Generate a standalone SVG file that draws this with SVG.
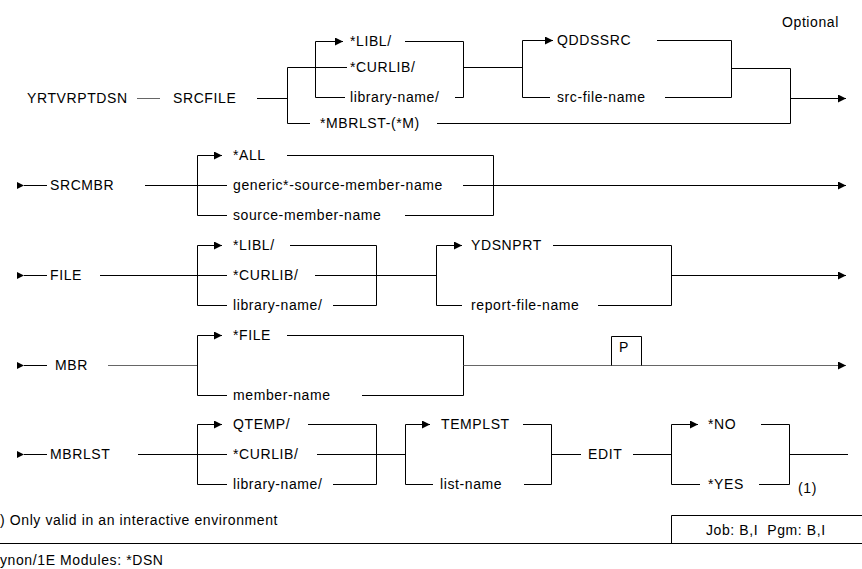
<svg xmlns="http://www.w3.org/2000/svg" width="862" height="569" viewBox="0 0 862 569">
<defs>
<marker id="ah" markerUnits="userSpaceOnUse" markerWidth="9" markerHeight="9" refX="8" refY="4" orient="auto"><path d="M0,0 L8,4 L0,8 z" fill="#000"/></marker>
<marker id="as" markerUnits="userSpaceOnUse" markerWidth="8" markerHeight="8" refX="7" refY="3.5" orient="auto"><path d="M0,0 L7,3.5 L0,7 z" fill="#000"/></marker>
<style>
text{font-family:"Liberation Sans",Arial,sans-serif;font-size:14px;letter-spacing:0.6px;fill:#000}
.c path{fill:none;stroke:#000;stroke-width:1}
.g{stroke:#666 !important}
.a{marker-end:url(#ah)}
.s{marker-start:url(#as)}
</style>
</defs>
<rect width="862" height="569" fill="#fff"/>
<g class="c" id="connectors">
<!-- row 1 -->
<path class="g" d="M137,98.5 H160"/>
<path d="M257,98.5 H287.5"/>
<path d="M287.5,67.5 V123.5"/>
<path d="M287.5,67.5 H347"/>
<path class="a" d="M315.5,97.5 V41.5 H343"/>
<path d="M405,41.5 H463.5 V97.5 H455"/>
<path d="M315.5,97.5 H345"/>
<path d="M463.5,67.5 H522.5"/>
<path class="a" d="M522.5,97.5 V40.5 H553"/>
<path d="M657,40.5 H731.5 V97.5 H665"/>
<path d="M522.5,97.5 H550"/>
<path d="M731.5,68.5 H790.5"/>
<path d="M287.5,123.5 H310"/>
<path d="M437,123.5 H790.5 V68.5"/>
<path class="a" d="M790.5,98.5 H846"/>
<!-- row 2 -->
<path class="s" d="M24,185.5 H47"/>
<path d="M145,185.5 H227"/>
<path class="a" d="M227,215.5 H197.5 V155.5 H222"/>
<path d="M287,155.5 H493.5 V215.5 H405"/>
<path class="a" d="M463,185.5 H846"/>
<!-- row 3 -->
<path class="s" d="M24,275.5 H47"/>
<path d="M100,275.5 H227"/>
<path class="a" d="M227,305.5 H197.5 V245.5 H222"/>
<path d="M290,245.5 H376.5 V305.5 H333"/>
<path d="M315,275.5 H436.5"/>
<path class="a" d="M462,305.5 H436.5 V245.5 H462"/>
<path d="M553,245.5 H671.5 V305.5 H598"/>
<path class="a" d="M671.5,275.5 H846"/>
<!-- row 4 -->
<path class="s" d="M24,365.5 H47"/>
<path class="g" d="M108,365.5 H197.5"/>
<path class="a" d="M227,395.5 H197.5 V335.5 H222"/>
<path d="M287,335.5 H463.5 V395.5 H362"/>
<path class="a g" d="M463.5,365.5 H846"/>
<path d="M611.5,365.5 V336.5 H641.5 V365.5"/>
<!-- row 5 -->
<path class="s" d="M24,454.5 H47"/>
<path d="M138,454.5 H227"/>
<path class="a" d="M227,484.5 H197.5 V424.5 H222"/>
<path d="M308,424.5 H376.5 V484.5 H333"/>
<path d="M317,454.5 H405.5"/>
<path class="a" d="M433,484.5 H405.5 V424.5 H430"/>
<path d="M523,424.5 H551.5 V484.5 H524"/>
<path d="M551.5,454.5 H581"/>
<path d="M633,454.5 H671.5"/>
<path class="a" d="M700,484.5 H671.5 V424.5 H698"/>
<path d="M761,424.5 H789.5 V484.5 H759"/>
<path d="M789.5,454.5 H848"/>
<!-- footer -->
<path d="M0,543.5 H862"/>
<path d="M671.5,543.5 V515.5 H862"/>
</g>
<g id="n-optional"><text x="782" y="27">Optional</text></g>
<g id="n-cmd"><text x="27" y="103">YRTVRPTDSN</text></g>
<g id="n-srcfile"><text x="173" y="103">SRCFILE</text></g>
<g id="n-libl1"><text x="350" y="46">*LIBL/</text></g>
<g id="n-curlib1"><text x="350" y="72">*CURLIB/</text></g>
<g id="n-libname1"><text x="350" y="102">library-name/</text></g>
<g id="n-mbrlstm"><text x="320" y="128">*MBRLST-(*M)</text></g>
<g id="n-qddssrc"><text x="557" y="45">QDDSSRC</text></g>
<g id="n-srcfilename"><text x="557" y="102">src-file-name</text></g>
<g id="n-srcmbr"><text x="50" y="190">SRCMBR</text></g>
<g id="n-all"><text x="233" y="160">*ALL</text></g>
<g id="n-generic"><text x="233" y="190">generic*-source-member-name</text></g>
<g id="n-srcmbrname"><text x="233" y="220">source-member-name</text></g>
<g id="n-file"><text x="50" y="280">FILE</text></g>
<g id="n-libl2"><text x="233" y="250">*LIBL/</text></g>
<g id="n-curlib2"><text x="233" y="280">*CURLIB/</text></g>
<g id="n-libname2"><text x="233" y="310">library-name/</text></g>
<g id="n-ydsnprt"><text x="471" y="250">YDSNPRT</text></g>
<g id="n-rptfile"><text x="471" y="310">report-file-name</text></g>
<g id="n-mbr"><text x="55" y="370">MBR</text></g>
<g id="n-filedef"><text x="233" y="340">*FILE</text></g>
<g id="n-membername"><text x="233" y="400">member-name</text></g>
<g id="n-p"><text x="619" y="352">P</text></g>
<g id="n-mbrlst"><text x="50" y="459">MBRLST</text></g>
<g id="n-qtemp"><text x="233" y="429">QTEMP/</text></g>
<g id="n-curlib3"><text x="233" y="459">*CURLIB/</text></g>
<g id="n-libname3"><text x="233" y="489">library-name/</text></g>
<g id="n-templst"><text x="441" y="429">TEMPLST</text></g>
<g id="n-listname"><text x="440" y="489">list-name</text></g>
<g id="n-edit"><text x="588" y="459">EDIT</text></g>
<g id="n-no"><text x="708" y="429">*NO</text></g>
<g id="n-yes"><text x="708" y="489">*YES</text></g>
<g id="n-note1"><text x="798" y="493">(1)</text></g>
<g id="n-footnote"><text x="0" y="525">) Only valid in an interactive environment</text></g>
<g id="n-job"><text x="706" y="535" xml:space="preserve">Job: B,I  Pgm: B,I</text></g>
<g id="n-modules"><text x="0" y="565">ynon/1E Modules: *DSN</text></g>
</svg>
